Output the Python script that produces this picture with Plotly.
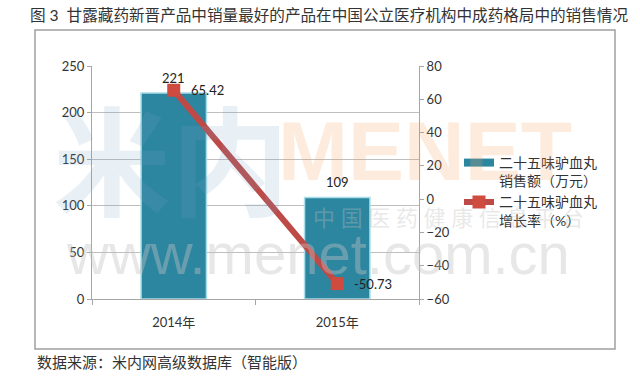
import plotly.graph_objects as go

# ---- data ----
categories = ["2014年", "2015年"]
sales = [221, 109]               # 销售额（万元）
growth = [65.42, -50.73]         # 增长率（%）
sales_labels = ["221", "109"]
growth_labels = ["65.42", "-50.73"]
left_ticks = [0, 50, 100, 150, 200, 250]
right_ticks = [-60, -40, -20, 0, 20, 40, 60, 80]

name_sales = "二十五味驴血丸<br>销售额（万元）"
name_growth = "二十五味驴血丸<br>增长率（%）"

FONT = "Lato, 'Noto Sans CJK SC', sans-serif"
TEAL = "#2D86A0"

W, H = 640, 377
L, R, T, B = 92, 419, 66, 299


def px(x):
    return (x - L) / (R - L)


def py(y):
    return (B - y) / (B - T)


fig = go.Figure()

fig.add_trace(go.Bar(
    x=categories, y=sales, width=0.4,
    marker=dict(color=TEAL, line=dict(color="#A9DDE8", width=1.5)),
    showlegend=False, name=name_sales,
))
# legend entry for the bar series (wide flat swatch like the original)
fig.add_trace(go.Scatter(
    x=[None], y=[None], mode="lines", name=name_sales,
    line=dict(color=TEAL, width=8),
))
fig.add_trace(go.Scatter(
    x=categories, y=growth, yaxis="y2", name=name_growth,
    mode="lines+markers",
    line=dict(color="#BD4A47", width=6),
    marker=dict(symbol="square", size=13, color="#CF4A3F"),
    cliponaxis=False,
))

wm = []
wm.append(dict(text="<b>米内</b>", x=px(171), y=py(161), font=dict(size=118, color="rgba(120,160,195,0.17)")))
wm.append(dict(text="<b>MENET</b>", x=px(425), y=py(151), font=dict(size=84, color="rgba(245,160,90,0.2)", family="Liberation Sans")))
wm.append(dict(text="中 国 医 药 健 康 信 息 平 台", x=px(448), y=py(217), font=dict(size=22, color="rgba(190,190,190,0.35)")))
wm.append(dict(text="www.menet.com.cn", x=px(318), y=py(253), font=dict(size=58, color="rgba(195,195,195,0.4)", family="Liberation Sans")))
annotations = [dict(xref="paper", yref="paper", showarrow=False, xanchor="center", yanchor="middle", **a) for a in wm]

# data labels
for c, v, t in zip(categories, sales, sales_labels):
    annotations.append(dict(x=c, y=v, xref="x", yref="y", text=t, showarrow=False,
                            yanchor="middle", yshift=15,
                            font=dict(size=13, color="#222222", family=FONT)))
for c, v, t in zip(categories, growth, growth_labels):
    annotations.append(dict(x=c, y=v, xref="x", yref="y2", text=t, showarrow=False,
                            xanchor="left", yanchor="middle", xshift=15,
                            font=dict(size=13, color="#222222", family=FONT)))

annotations.append(dict(
    text="数据来源：米内网高级数据库（智能版）", xref="paper", yref="paper",
    x=px(35), y=py(362), xanchor="left", yanchor="middle", showarrow=False,
    font=dict(size=15, color="#333333", family=FONT),
))

fig.update_layout(
    width=W, height=H,
    margin=dict(l=L, r=W - R, t=T, b=H - B),
    paper_bgcolor="white", plot_bgcolor="white",
    font=dict(family=FONT, size=13, color="#333333"),
    title=dict(
        text="图 3  甘露藏药新晋产品中销量最好的产品在中国公立医疗机构中成药格局中的销售情况",
        x=30 / W, xanchor="left", y=1 - 16 / H, yanchor="middle",
        font=dict(size=15.6, color="#333333", family=FONT),
    ),
    xaxis=dict(
        type="category", showline=True, linecolor="#A6A6A6", linewidth=1,
        ticks="outside", tickson="boundaries", ticklen=5, tickcolor="#A6A6A6",
        showgrid=False, ticklabelstandoff=11,
        tickfont=dict(size=13, color="#333333"),
    ),
    yaxis=dict(
        range=[0, 250], tickvals=left_ticks, showline=True, linecolor="#A6A6A6",
        ticks="outside", ticklen=4, tickcolor="#A6A6A6",
        showgrid=True, gridcolor="#BFBFBF", gridwidth=1, zeroline=False,
        tickfont=dict(size=13, color="#333333"),
    ),
    yaxis2=dict(
        range=[-60, 80], tickvals=right_ticks, overlaying="y", side="right",
        showline=True, linecolor="#A6A6A6", ticks="outside", ticklen=4,
        tickcolor="#A6A6A6", showgrid=False, zeroline=False,
        tickfont=dict(size=13, color="#333333"),
    ),
    legend=dict(
        x=px(459), y=py(147), xanchor="left", yanchor="top",
        font=dict(size=14, color="#333333", family=FONT),
        valign="top", bgcolor="rgba(0,0,0,0)", tracegroupgap=6,
    ),
    annotations=annotations,
    shapes=[dict(
        type="rect", xref="paper", yref="paper",
        x0=px(35), x1=px(615), y0=py(349), y1=py(30),
        line=dict(color="#A0A0A0", width=1.5), fillcolor="rgba(0,0,0,0)", layer="below",
    )],
)

fig.write_html("out.html", config={"displayModeBar": False},
               post_script="document.body.style.margin='0';")
